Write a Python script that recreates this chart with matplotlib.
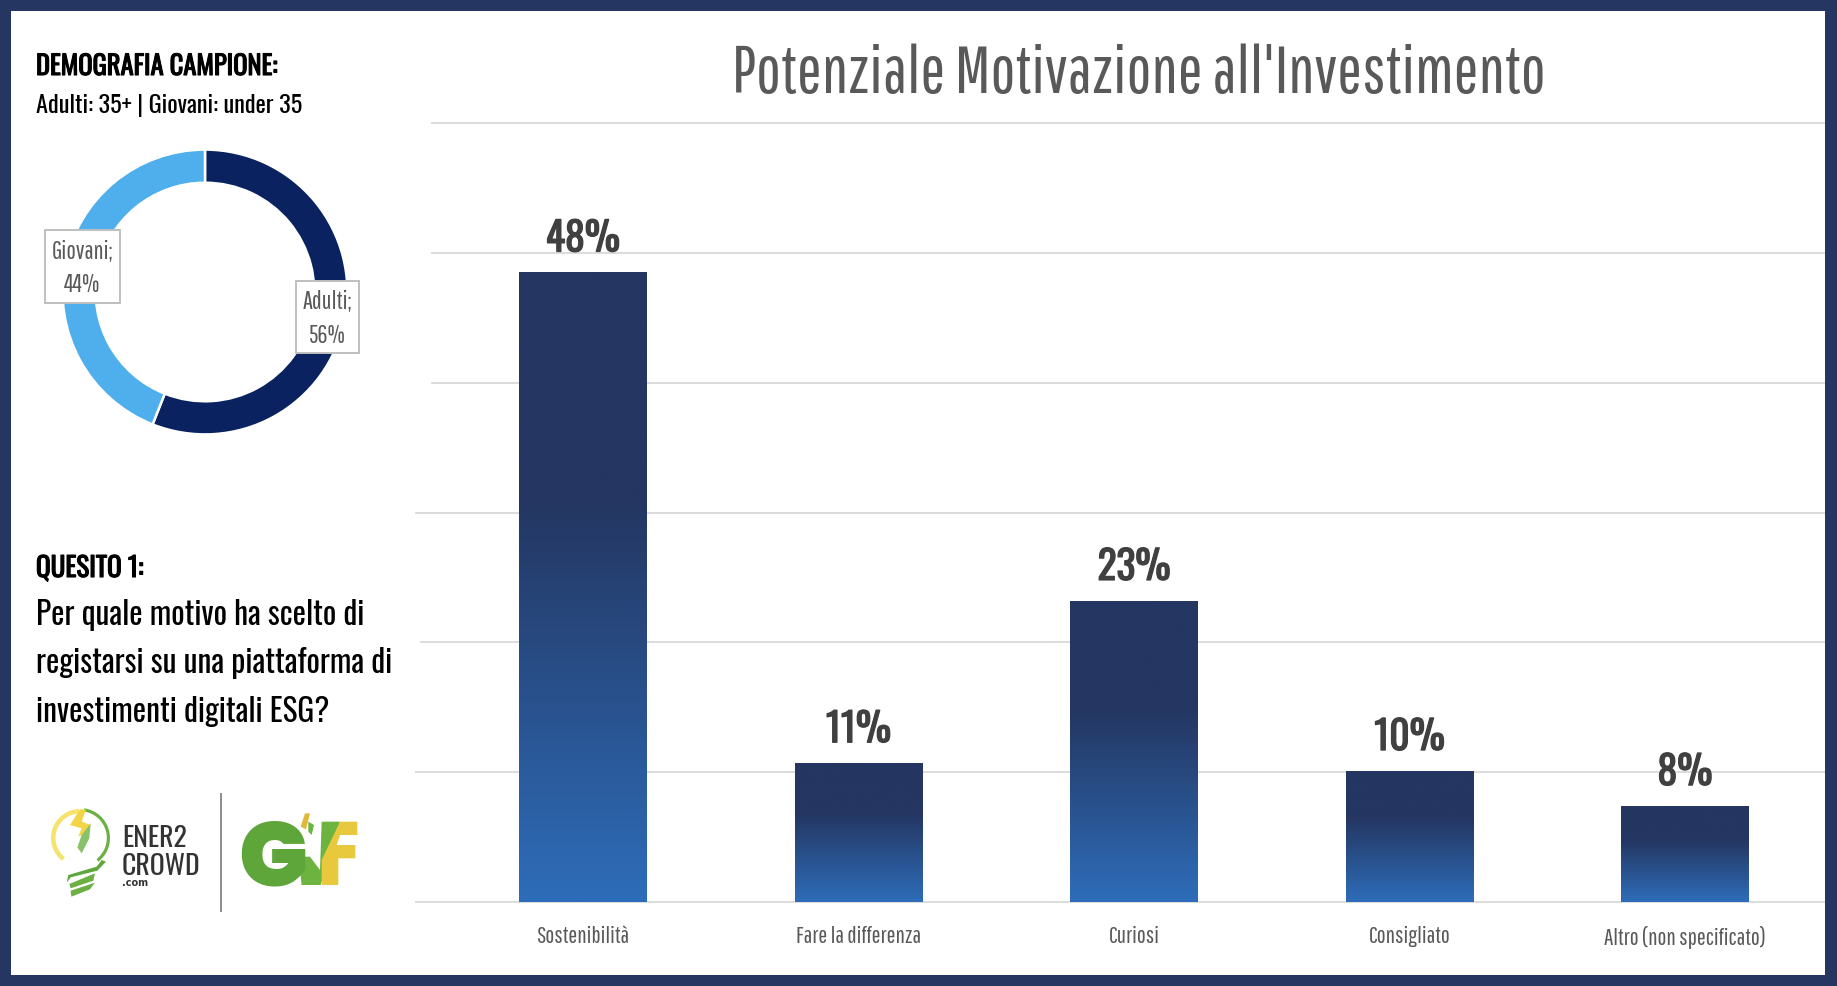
import numpy as np
import matplotlib
matplotlib.use("Agg")
import matplotlib.pyplot as plt
import matplotlib.patheffects as pe
from matplotlib.colors import LinearSegmentedColormap
from matplotlib.patches import Polygon, Rectangle, Wedge

# chart data
CATEGORIES = ["Sostenibilità", "Fare la differenza", "Curiosi", "Consigliato", "Altro (non specificato)"]
BAR_VALUES = [48.5, 10.7, 23.2, 10.1, 7.4]
BAR_LABELS = ["48%", "11%", "23%", "10%", "8%"]
GRID_VALUES = [0, 10, 20, 30, 40, 50, 60]
DONUT_NAMES = ["Adulti", "Giovani"]
DONUT_VALUES = [56, 44]

W, H = 1837, 986
NAVY = "#243661"
GRID = "#d9d9d9"
TEXT_GREY = "#595959"

OSWALD = ["Oswald", "Liberation Sans Narrow", "DejaVu Sans"]
LIGHT = ["Pathway Gothic One", "Liberation Sans Narrow", "DejaVu Sans"]
HEAVY = ["Poppins", "DejaVu Sans"]


def axes_px(left, top, right, bottom, **kw):
    # axes placed by picture pixels, y counted from the top
    return fig.add_axes([left / W, 1 - bottom / H, (right - left) / W, (bottom - top) / H], **kw)


def py(y):
    return H - y


def lz(points):
    return [(x / 3, H - (760 + y / 3)) for x, y in points]


fig = plt.figure(figsize=(W / 100, H / 100), dpi=100, facecolor=NAVY)

ax_bg = axes_px(11, 11, 1825, 975, facecolor="white", zorder=0)
ax_bg.set_xticks([])
ax_bg.set_yticks([])
for s in ax_bg.spines.values():
    s.set_visible(False)

# ==================== BAR CHART ====================
ax = axes_px(415, 123, 1825, 902, zorder=1)
ax.patch.set_alpha(0)
for s in ax.spines.values():
    s.set_visible(False)

x = np.arange(len(CATEGORIES))
XMIN, XMAX = (415 - 583) / 275.5, (1825 - 583) / 275.5
ax.set_xlim(XMIN, XMAX)
ax.set_ylim(0, 60)

# gridlines do not all start at the same x in the original
grid_start = [415, 415, 420, 415, 431, 431, 431]
for g, gx in zip(GRID_VALUES, grid_start):
    ax.hlines(g, (gx - 583) / 275.5, XMAX, color=GRID, lw=1.3, zorder=1, clip_on=False)

bar_cmap = LinearSegmentedColormap.from_list(
    "bar", [(0.0, "#243661"), (0.36, "#243661"), (1.0, "#2e6db9")]
)
grad = np.linspace(0, 1, 256).reshape(-1, 1)
bars = ax.bar(x, BAR_VALUES, width=0.462, color="none", zorder=2)
for b in bars:
    im = ax.imshow(grad, cmap=bar_cmap, aspect="auto", zorder=2,
                   extent=(b.get_x(), b.get_x() + b.get_width(), 0, b.get_height()))
    im.set_clip_path(b)
ax.set_xlim(XMIN, XMAX)
ax.set_ylim(0, 60)

for xi, v, lab in zip(x, BAR_VALUES, BAR_LABELS):
    t = ax.annotate(lab, (xi, v), xytext=(0, 15), textcoords="offset points",
                    ha="center", va="baseline", family=OSWALD, fontsize=28.5, color="#404040")
    t.set_path_effects([pe.withStroke(linewidth=0.9, foreground="#404040")])

ax.set_yticks([])
ax.set_xticks(x, CATEGORIES, family=LIGHT, fontsize=17, color=TEXT_GREY)
ax.tick_params(axis="x", length=0, pad=17)

# ==================== DONUT ====================
ax_d = axes_px(64, 151, 346, 433, zorder=1)
ax_d.pie(DONUT_VALUES, colors=["#0a2260", "#4faeec"], startangle=90, counterclock=False,
         radius=1.01, wedgeprops=dict(width=0.235, edgecolor="white", linewidth=1.8))
ax_d.set_xlim(-1, 1)
ax_d.set_ylim(-1, 1)

# ==================== TEXT AND LOGOS ====================
ov = axes_px(0, 0, W, H, zorder=3)
ov.set_xlim(0, W)
ov.set_ylim(0, H)
ov.axis("off")

ov.text(1139, py(93), "Potenziale Motivazione all'Investimento", family=LIGHT, fontsize=47.5,
        color=TEXT_GREY, ha="center", va="baseline")

bold = [pe.withStroke(linewidth=0.8, foreground="black")]
ov.text(36, py(75), "DEMOGRAFIA CAMPIONE:", family=OSWALD, fontsize=19.1, color="black",
        va="baseline", path_effects=bold)
ov.text(36, py(113), "Adulti: 35+ | Giovani: under 35", family=OSWALD, fontsize=17.5, color="black",
        va="baseline")
ov.text(36, py(577), "QUESITO 1:", family=OSWALD, fontsize=19.5, color="black",
        va="baseline", path_effects=bold)
for line, base in zip(["Per quale motivo ha scelto di", "registarsi su una piattaforma di",
                       "investimenti digitali ESG?"], [625, 673, 722]):
    ov.text(36, py(base), line, family=OSWALD, fontsize=22.6, color="black", va="baseline")

# donut data labels
boxes = [(296, 281, 359, 353), (45, 230, 120, 303)]
for (l, t, r, b), name, val in zip(boxes, DONUT_NAMES, DONUT_VALUES):
    ov.add_patch(Rectangle((l, py(b)), r - l, b - t, fc="white", ec="#bfbfbf", lw=1.4))
    ov.text((l + r) / 2, py((t + b) / 2 + 2), f"{name};\n{val}%", family=LIGHT, fontsize=18,
            color=TEXT_GREY, ha="center", va="center", linespacing=1.5)

# Ener2Crowd logo, bulb
ov.add_patch(Wedge((80, py(838)), 29, 92, 232, width=4.5, fc="#f5e36b", ec="none"))
ov.add_patch(Wedge((80, py(838)), 30, -52, 82, width=3.2, fc="#6cb044", ec="none"))
ov.add_patch(Polygon(lz([(305, 300), (290, 320), (205, 345), (200, 368), (212, 352), (292, 332), (318, 305)]),
                     fc="#5fa63c", ec="none"))
ov.add_patch(Polygon(lz([(208, 372), (285, 340), (280, 362), (212, 385)]), fc="#6cb044", ec="none"))
ov.add_patch(Polygon(lz([(212, 392), (285, 368), (270, 388), (214, 410)]), fc="#6cb044", ec="none"))
ov.add_patch(Polygon(lz([(240, 148), (258, 148), (245, 185), (272, 195), (250, 225), (235, 228),
                         (245, 205), (210, 195)]), fc="#f2d547", ec="none"))
ov.add_patch(Polygon(lz([(272, 190), (268, 235), (245, 280), (232, 262), (245, 225)]), fc="#8cc16b", ec="none"))

ov.text(122, py(847), "ENER2", family=OSWALD, fontsize=20, color="#333333", va="baseline")
ov.text(122, py(875), "CROWD", family=OSWALD, fontsize=20, color="#333333", va="baseline")
ov.text(122, py(886), ".com", family="DejaVu Sans", weight="bold", fontsize=7, color="#333333", va="baseline")

ov.plot([221, 221], [py(794), py(911)], color="#8c8c8c", lw=1.4)

# GVF logo
ov.text(238, py(885), "G", family=HEAVY, weight="black", fontsize=66, color="#5ea63a", va="baseline")
ov.add_patch(Polygon(lz([(895, 290), (930, 290), (960, 330), (965, 185), (1020, 185), (962, 375), (905, 375)]),
                     fc="#6cb33f", ec="none"))
ov.add_patch(Polygon(lz([(965, 375), (965, 300), (1020, 185), (1072, 185), (1072, 225), (1020, 225), (1010, 255),
                         (1066, 255), (1066, 295), (1015, 295), (1015, 375)]), fc="#e8c93e", ec="none"))
ov.add_patch(Polygon(lz([(915, 160), (930, 160), (918, 208), (902, 200)]), fc="#e0b93a", ec="none"))
ov.add_patch(Polygon(lz([(925, 185), (942, 195), (935, 225), (925, 215)]), fc="#6cb33f", ec="none"))

fig.savefig("out.png", facecolor=fig.get_facecolor())
